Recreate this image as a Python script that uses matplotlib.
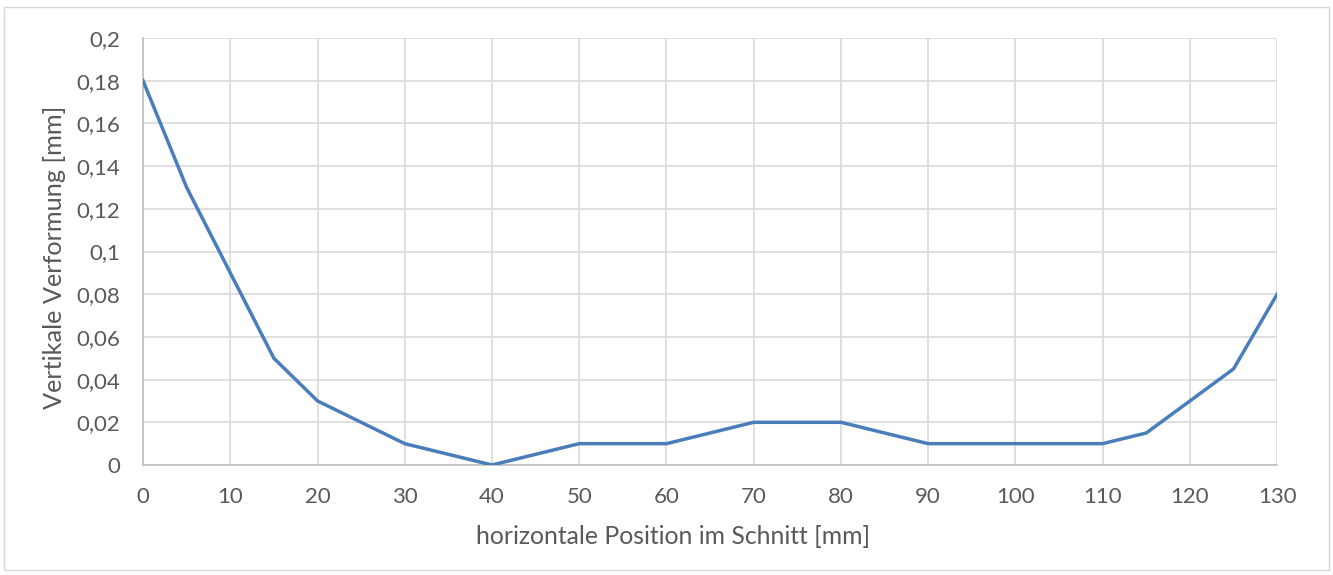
#!/usr/bin/env python3
"""Chart: vertikale Verformung entlang des Schnitts."""

import matplotlib.pyplot as plt
import matplotlib.ticker as mticker
from matplotlib.patches import Rectangle

# Data
position_mm = [0, 5, 10, 15, 20, 30, 40, 50, 60, 70, 80, 90, 100, 110, 115, 120, 125, 130]
verformung_mm = [0.18, 0.13, 0.09, 0.05, 0.03, 0.01, 0.0, 0.01, 0.01, 0.02, 0.02, 0.01, 0.01, 0.01,
                 0.015, 0.03, 0.045, 0.08]

plt.rcParams["font.family"] = ["Lato", "DejaVu Sans"]
text_color = "#595959"

fig = plt.figure(figsize=(13.33, 5.75), dpi=100)
ax = fig.add_axes([0.1073, 0.1913, 0.8508, 0.7426])

ax.plot(position_mm, verformung_mm, color="#4A7EBB", linewidth=2.5, solid_joinstyle="miter", zorder=3)

ax.set_xlim(0, 130)
ax.set_ylim(0, 0.2)
ax.xaxis.set_major_locator(mticker.MultipleLocator(10))
ax.yaxis.set_major_locator(mticker.MultipleLocator(0.02))
ax.yaxis.set_major_formatter(mticker.FuncFormatter(lambda v, _: f"{v:.2f}".rstrip("0").rstrip(".").replace(".", ",") if v else "0"))

ax.grid(True, color="#D9D9D9", linewidth=1.2, zorder=0)
ax.set_axisbelow(True)
for side in ["top", "right"]:
    ax.spines[side].set_visible(False)
for side in ["left", "bottom"]:
    ax.spines[side].set_color("#BFBFBF")
    ax.spines[side].set_linewidth(1.2)
ax.tick_params(length=0, labelsize=16, labelcolor=text_color)
ax.tick_params(axis="y", pad=16.5)
ax.tick_params(axis="x", pad=16)

ax.set_xlabel("horizontale Position im Schnitt [mm]", fontsize=17.8, color=text_color)
ax.set_ylabel("Vertikale Verformung [mm]", fontsize=18.2, color=text_color)
ax.xaxis.set_label_coords(0.467, -0.140)
ax.yaxis.set_label_coords(-0.068, 0.487)

# chart border
fig.patches.append(Rectangle((0.003, 0.008), 0.994, 0.98, transform=fig.transFigure,
                             fill=False, edgecolor="#D9D9D9", linewidth=1.0))

plt.savefig("out.png", dpi=100)
